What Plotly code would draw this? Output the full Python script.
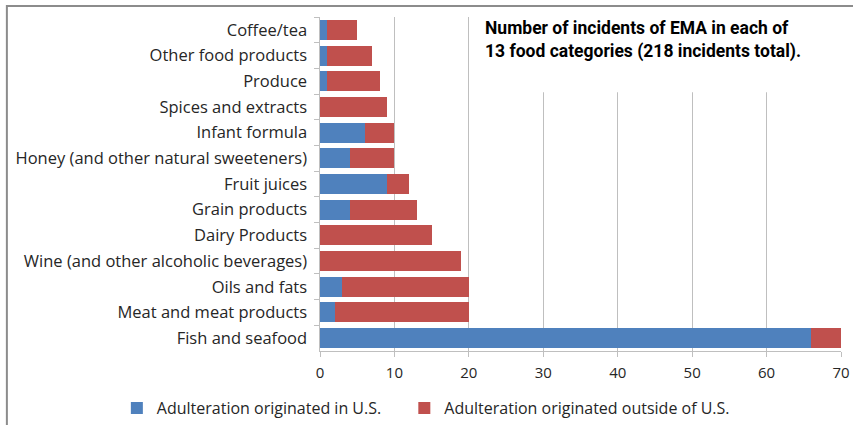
import plotly.graph_objects as go

categories = ["Coffee/tea", "Other food products", "Produce", "Spices and extracts",
              "Infant formula", "Honey (and other natural sweeteners)", "Fruit juices",
              "Grain products", "Dairy Products", "Wine (and other alcoholic beverages)",
              "Oils and fats", "Meat and meat products", "Fish and seafood"]
us_values = [1, 1, 1, 0, 6, 4, 9, 4, 0, 0, 3, 2, 66]
outside_values = [4, 6, 7, 9, 4, 6, 3, 9, 15, 19, 17, 18, 4]
x_ticks = [0, 10, 20, 30, 40, 50, 60, 70]
title_text = "Number of incidents of EMA in each of<br>13 food categories (218 incidents total)."

fig = go.Figure()
fig.add_trace(go.Bar(y=categories, x=us_values, orientation="h",
                     name="Adulteration originated in U.S.", legend="legend",
                     marker=dict(color="#4F81BD", line=dict(width=0))))
fig.add_trace(go.Bar(y=categories, x=outside_values, orientation="h",
                     name="Adulteration originated outside of U.S.", legend="legend2",
                     marker=dict(color="#C0504D", line=dict(width=0))))

legend_common = dict(orientation="h", xref="container", yref="container",
                     xanchor="left", y=0.04, yanchor="middle",
                     font=dict(size=16), itemwidth=30, bgcolor="rgba(0,0,0,0)")

fig.update_layout(
    width=853, height=425,
    barmode="stack", bargap=0.22,
    margin=dict(l=320, r=12, t=17, b=74, autoexpand=False),
    paper_bgcolor="white", plot_bgcolor="white",
    font=dict(family="Open Sans, sans-serif", size=13, color="#262626"),
    showlegend=True,
    legend=dict(x=0.137, **legend_common),
    legend2=dict(x=0.474, **legend_common),
    xaxis=dict(range=[0, 70], tickvals=x_ticks, showgrid=True, gridcolor="#bfbfbf",
               gridwidth=1, zeroline=False, showline=True, linecolor="#bfbfbf",
               ticks="outside", ticklen=5, tickcolor="#bfbfbf", automargin=False,
               ticklabelstandoff=3,
               tickfont=dict(size=15), fixedrange=True),
    yaxis=dict(autorange="reversed", showline=True, linecolor="#bfbfbf",
               ticks="outside", ticklen=5, tickcolor="#bfbfbf", tickson="boundaries",
               tickfont=dict(size=16.5), showgrid=False, ticksuffix="  ",
               automargin=False),
)

# white box behind title, hiding gridlines
fig.add_shape(type="rect", xref="x", yref="paper", x0=20.3, x1=69.7, y0=0.775, y1=1.0,
              fillcolor="white", line=dict(width=0), layer="above")
# outer frame
fig.add_shape(type="rect", xref="paper", yref="paper", x0=-0.601, x1=1.5, y0=-1, y1=1.033,
              line=dict(color="#8c8c8c", width=2), fillcolor="rgba(0,0,0,0)", layer="above")

fig.add_annotation(xref="paper", yref="paper", x=0.312, y=1.003, xanchor="left", yanchor="top",
                   text="<b>" + title_text + "</b>", showarrow=False, align="left",
                   font=dict(family="Liberation Sans Narrow, Arial Narrow, Roboto, sans-serif",
                             size=17.5, color="black"))

fig.write_html("out.html")
